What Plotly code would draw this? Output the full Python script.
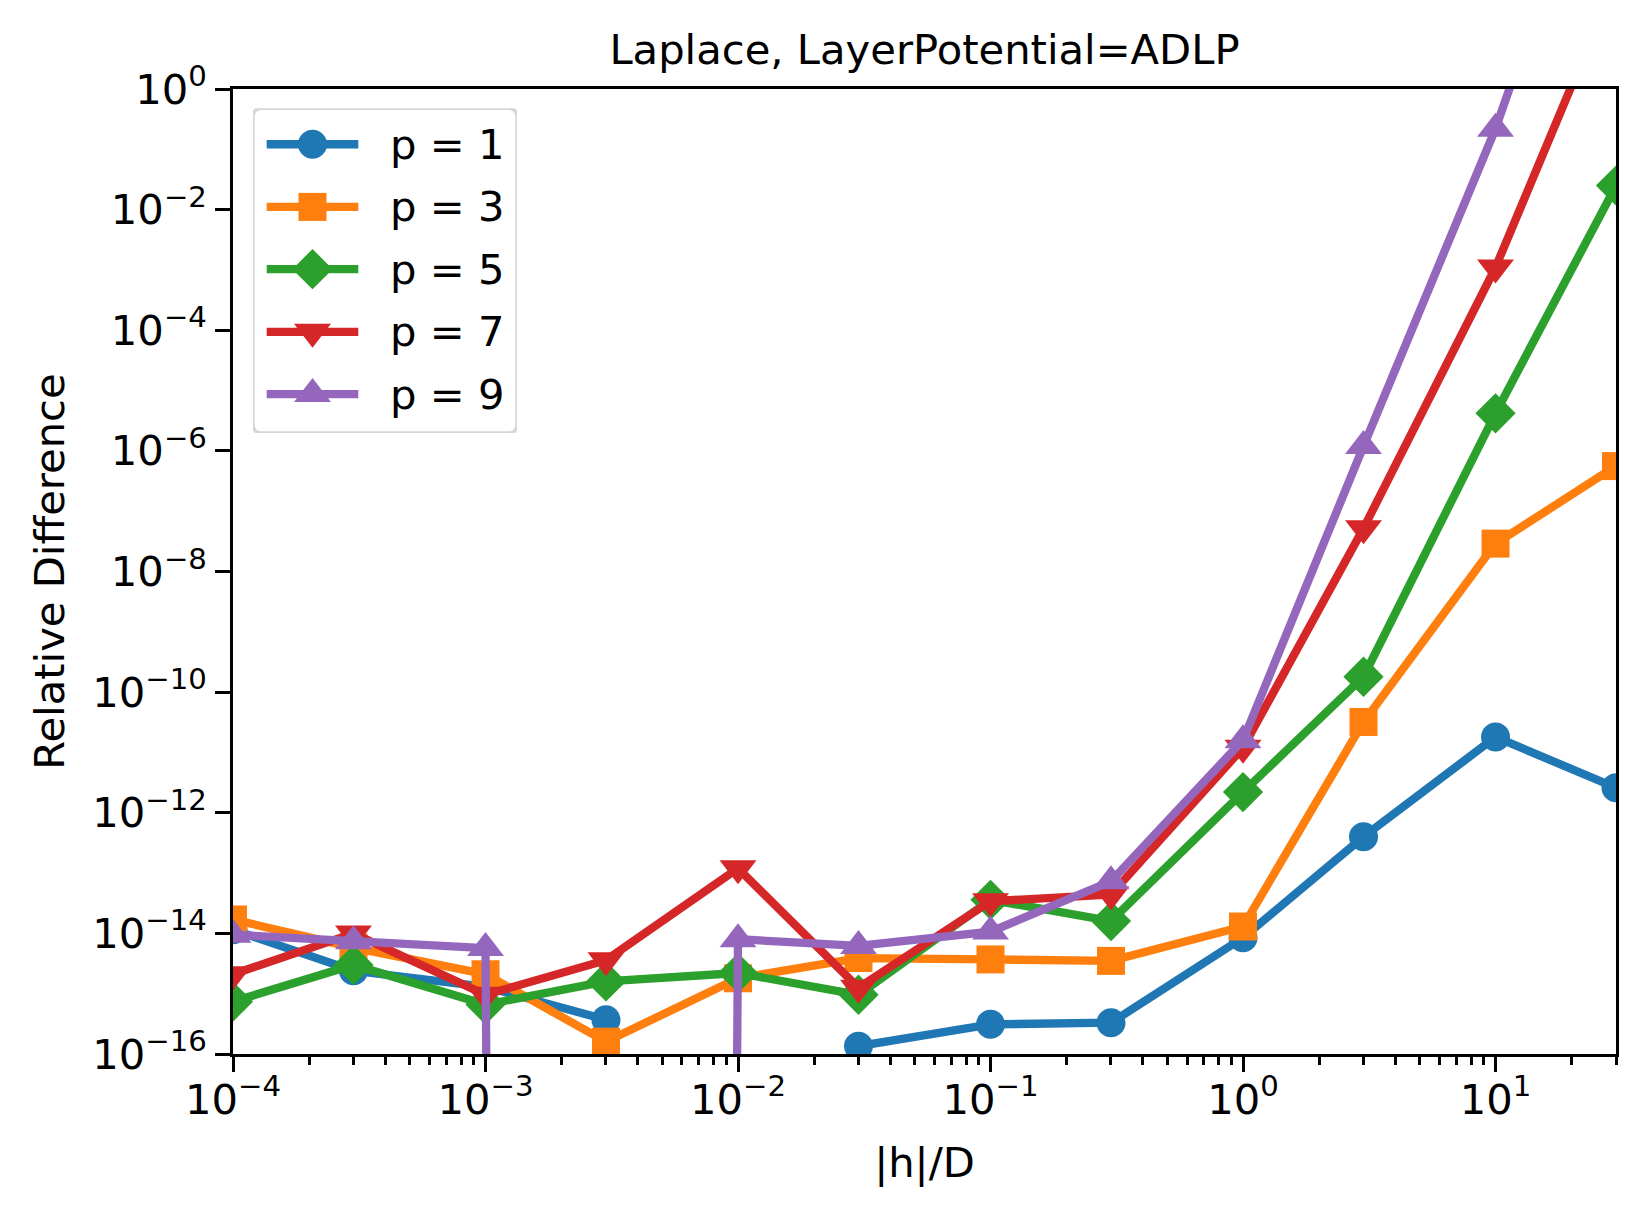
import plotly.graph_objects as go

# |h|/D sample points
h_over_d = [1e-4, 3e-4, 1e-3, 3e-3, 1e-2, 3e-2, 1e-1, 3e-1, 1, 3, 10, 30]

# relative difference per expansion order p (0 = exact zero, clipped like matplotlib)
p1 = [1.15e-14, 2.4e-15, 1.3e-15, 3.7e-16, 0, 1.35e-16, 3.1e-16, 3.3e-16, 8.5e-15, 4e-13, 1.8e-11, 2.6e-12]
p3 = [1.7e-14, 5.8e-15, 2.1e-15, 1.6e-16, 1.8e-15, 3.9e-15, 3.7e-15, 3.5e-15, 1.3e-14, 3.2e-11, 2.9e-8, 5.6e-7]
p5 = [7.4e-16, 3.0e-15, 6.6e-16, 1.6e-15, 2.2e-15, 9.6e-16, 3.6e-14, 1.6e-14, 2.2e-12, 1.8e-10, 4.2e-6, 2.5e-2]
p7 = [2.1e-15, 1.0e-14, 9.6e-16, 3.6e-15, 1.2e-13, 1.26e-15, 3.4e-14, 4.4e-14, 1.2e-11, 5.2e-8, 1.1e-3, 65]
p9 = [9.5e-15, 7.4e-15, 5.7e-15, 0, 8.0e-15, 6.2e-15, 1.07e-14, 7.3e-14, 1.6e-11, 1.2e-6, 0.22, 1.2e5]

labels = ["p = 1", "p = 3", "p = 5", "p = 7", "p = 9"]
values = [p1, p3, p5, p7, p9]
colors = ["#1f77b4", "#ff7f0e", "#2ca02c", "#d62728", "#9467bd"]
symbols = ["circle", "square", "diamond", "triangle-down", "triangle-up"]
sizes = [29, 28, 31, 32, 32]

# figure geometry (page body adds an 8px offset)
W, H = 1630, 1200
L, R, T, B = 225, 1608, 80.7, 1046.5
FS = 41.7
FONT = "DejaVu Sans"


def clip(vals):
    # matplotlib's log scale clips non-positive values to 1e-300
    return [v if v > 0 else 1e-300 for v in vals]


def sup(e):
    return "10<sup>" + ("\u2212" if e < 0 else "") + str(abs(e)) + "</sup>"


fig = go.Figure()
for name, vals, color, symbol, size in zip(labels, values, colors, symbols, sizes):
    fig.add_trace(go.Scatter(
        x=h_over_d, y=clip(vals),
        mode="lines+markers", name=name, showlegend=False,
        line=dict(color=color, width=8.3),
        marker=dict(color=color, symbol=symbol, size=size, opacity=1, line=dict(width=0)),
        cliponaxis=True,
    ))

# hand-built legend on a hidden pixel-scaled axis pair (matplotlib-sized markers)
lx0, lx1, ly0, ly1 = 245, 509, 100, 425
rows = [136, 198.7, 261, 323.7, 386]
seg = [258.7, 304.5, 350.3]
for name, color, symbol, size, ry in zip(labels, colors, symbols, sizes, rows):
    fig.add_trace(go.Scatter(
        x=seg, y=[ry] * 3, xaxis="x2", yaxis="y2",
        mode="lines+markers", showlegend=False, hoverinfo="skip", cliponaxis=False,
        line=dict(color=color, width=8.3),
        marker=dict(color=color, symbol=symbol, size=[0, size, 0], opacity=1,
                    line=dict(width=0)),
    ))
    fig.add_annotation(x=380, y=ry, xref="x2", yref="y2", text=name, showarrow=False,
                       xanchor="left", yanchor="middle",
                       font=dict(family=FONT, size=FS, color="black"))

r = 9
box = (f"M {lx0 + r},{ly0} L {lx1 - r},{ly0} Q {lx1},{ly0} {lx1},{ly0 + r} "
       f"L {lx1},{ly1 - r} Q {lx1},{ly1} {lx1 - r},{ly1} L {lx0 + r},{ly1} "
       f"Q {lx0},{ly1} {lx0},{ly1 - r} L {lx0},{ly0 + r} Q {lx0},{ly0} {lx0 + r},{ly0} Z")
fig.add_shape(type="path", path=box, xref="x2", yref="y2", layer="below",
              fillcolor="white", line=dict(color="#d6d6d6", width=3.3))

xt_exp = [-4, -3, -2, -1, 0, 1]
yt_exp = [0, -2, -4, -6, -8, -10, -12, -14, -16]
x_minor = [k * 10.0 ** e for e in range(-4, 2) for k in range(2, 10) if k * 10.0 ** e <= 30]

axis_common = dict(
    showline=True, linecolor="black", linewidth=3.3, mirror=True,
    ticks="outside", ticklen=14.6, tickwidth=3.3, tickcolor="black",
    showgrid=False, zeroline=False,
    tickfont=dict(family=FONT, size=FS, color="black"),
    title_font=dict(family=FONT, size=FS, color="black"),
)

fig.update_layout(
    xaxis=dict(
        type="log", range=[-4, 1.4771], domain=[0, 1],
        tickmode="array", tickvals=[10.0 ** e for e in xt_exp], ticktext=[sup(e) for e in xt_exp],
        minor=dict(tickmode="array", tickvals=x_minor, ticks="outside", ticklen=8.3,
                   tickwidth=2.5, tickcolor="black", showgrid=False),
        ticklabelstandoff=-8,
        title=dict(text="|h|/D", standoff=26),
        **axis_common,
    ),
    yaxis=dict(
        type="log", range=[-16, 0], domain=[0, 1],
        tickmode="array", tickvals=[10.0 ** e for e in yt_exp], ticktext=[sup(e) for e in yt_exp],
        title=dict(text="Relative Difference", standoff=15),
        **axis_common,
    ),
    xaxis2=dict(visible=False, anchor="y2", range=[lx0, lx1],
                domain=[(lx0 - L) / (R - L), (lx1 - L) / (R - L)]),
    yaxis2=dict(visible=False, anchor="x2", range=[ly1, ly0],
                domain=[(B - ly1) / (B - T), (B - ly0) / (B - T)]),
)

fig.update_layout(
    width=W, height=H,
    margin=dict(l=L, r=W - R, t=T, b=H - B),
    paper_bgcolor="white", plot_bgcolor="white",
    font=dict(family=FONT, size=FS, color="black"),
    title=dict(text="Laplace, LayerPotential=ADLP", x=0.5, xanchor="center",
               xref="paper", y=1 - 41 / H, yanchor="middle", yref="container",
               font=dict(family=FONT, size=FS, color="black")),
    showlegend=False,
)

fig.write_html("out.html")
